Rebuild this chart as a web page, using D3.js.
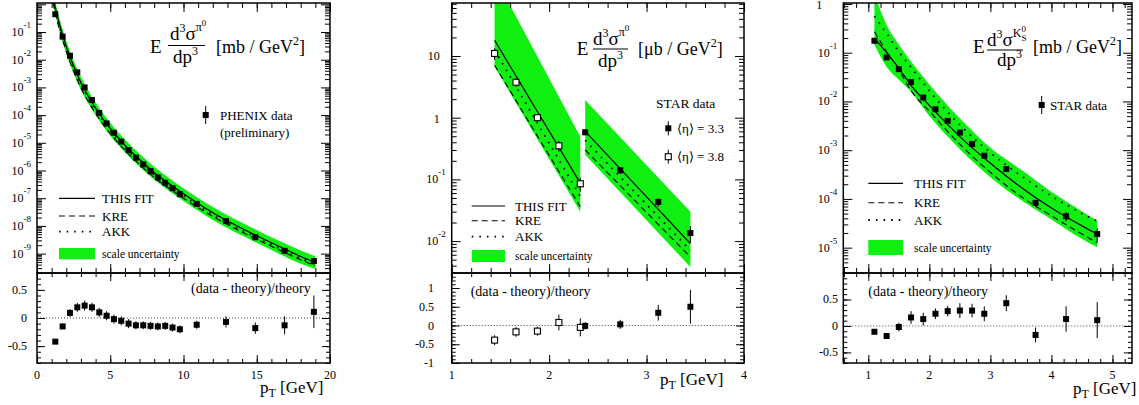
<!DOCTYPE html>
<html>
<head>
<meta charset="utf-8">
<script src="https://cdn.jsdelivr.net/npm/d3@7"></script>
<style>
body { margin: 0; background: #fff; }
text { font-family: "Liberation Serif", "Times New Roman", serif; fill: #000; }
</style>
</head>
<body>
<script>
// ---- left: PHENIX pi0 ----
const phxPt = [1.25,1.75,2.25,2.75,3.25,3.75,4.25,4.75,5.25,5.75,6.25,6.75,7.25,7.75,8.25,8.75,9.25,9.75,10.9,12.9,14.9,16.9,18.9];
const phxVal = [0.44,0.068,0.0139,3.5e-3,1.0e-3,3.5e-4,1.2e-4,5.0e-5,2.3e-5,1.1e-5,5.5e-6,2.9e-6,1.66e-6,9.5e-7,5.6e-7,3.6e-7,2.3e-7,1.4e-7,6.2e-8,1.5e-8,3.9e-9,1.26e-9,5.4e-10];
const phxRatio = [-0.42,-0.15,0.09,0.19,0.22,0.19,0.10,0.04,-0.02,-0.05,-0.10,-0.13,-0.13,-0.14,-0.15,-0.14,-0.17,-0.20,-0.12,-0.07,-0.18,-0.13,0.11];
const phxRatioErr = [0.02,0.05,0.07,0.08,0.09,0.08,0.08,0.08,0.08,0.08,0.08,0.07,0.07,0.07,0.07,0.07,0.07,0.07,0.07,0.10,0.10,0.16,0.29];
const phxThPt = [1.1,1.25,1.5,2,2.5,3,3.5,4,5,6,7,8,9,10,12,14,16,18,19];
const phxFit = [1.78,0.76,0.224,0.030,5.9e-3,1.48e-3,4.8e-4,1.78e-4,3.3e-5,8.3e-6,2.5e-6,8.5e-7,3.4e-7,1.45e-7,3.0e-8,8.1e-9,2.45e-9,7.9e-10,4.7e-10];
const phxKRE = [1.15,0.49,0.145,0.0195,3.8e-3,9.6e-4,3.1e-4,1.15e-4,2.15e-5,5.4e-6,1.65e-6,5.6e-7,2.3e-7,1.0e-7,2.2e-8,6.0e-9,1.85e-9,6.0e-10,3.6e-10];
const phxAKK = [1.5,0.64,0.19,0.0255,5.0e-3,1.26e-3,4.1e-4,1.5e-4,2.8e-5,7.0e-6,2.1e-6,7.2e-7,2.9e-7,1.23e-7,2.55e-8,6.9e-9,2.1e-9,6.8e-10,4.0e-10];
const phxHi = [2.9,1.22,0.36,0.048,9.4e-3,2.4e-3,7.7e-4,2.85e-4,5.3e-5,1.33e-5,4.0e-6,1.36e-6,5.4e-7,2.3e-7,4.8e-8,1.3e-8,3.9e-9,1.3e-9,8.0e-10];
const phxLo = [0.98,0.42,0.123,0.0165,3.2e-3,8.1e-4,2.6e-4,9.8e-5,1.8e-5,4.6e-6,1.38e-6,4.7e-7,1.87e-7,8.0e-8,1.65e-8,4.5e-9,1.35e-9,4.3e-10,2.8e-10];

// ---- middle: STAR pi0, two rapidities ----
const s38Pt = [1.44,1.66,1.88,2.10,2.32];
const s38Val = [11,3.75,1.0,0.35,0.085];
const s38Ratio = [-0.39,-0.17,-0.15,0.08,-0.05];
const s38RatioErr = [0.13,0.13,0.12,0.21,0.24];
const s33Pt = [2.37,2.73,3.12,3.45];
const s33Val = [0.58,0.14,0.043,0.0135];
const s33Ratio = [-0.01,0.03,0.34,0.50];
const s33RatioErr = [0.10,0.12,0.21,0.45];
const th38Pt = [1.44,2.32], th38Fit = [18,0.087], th38KRE = [7.1,0.036], th38AKK = [12.5,0.053], th38Hi = [195,0.49], th38Lo = [6.7,0.030];
const th33Pt = [2.37,3.45], th33Fit = [0.60,0.0091], th33KRE = [0.30,0.0055], th33AKK = [0.43,0.0071], th33Hi = [1.94,0.030], th33Lo = [0.25,0.0038];

// ---- right: STAR K0s ----
const kPt = [1.10,1.30,1.50,1.70,1.90,2.10,2.30,2.50,2.70,2.90,3.26,3.74,4.24,4.75];
const kVal = [0.176,0.080,0.046,0.025,0.012,6.9e-3,4.0e-3,2.3e-3,1.34e-3,7.7e-4,4.1e-4,8.3e-5,4.4e-5,1.9e-5];
const kRatio = [-0.11,-0.19,-0.02,0.16,0.13,0.23,0.28,0.29,0.29,0.23,0.43,-0.17,0.13,0.11];
const kRatioErr = [0.03,0.03,0.08,0.12,0.12,0.10,0.10,0.14,0.13,0.14,0.15,0.14,0.24,0.34];
const kThPt = [1.1,1.3,1.5,1.7,2.0,2.5,3.0,3.5,4.0,4.5,4.75];
const kFit = [0.20,0.10,0.048,0.0214,8.3e-3,1.9e-3,5.4e-4,1.74e-4,6.5e-5,2.8e-5,1.9e-5];
const kKRE = [0.27,0.105,0.045,0.0166,6.3e-3,1.32e-3,3.5e-4,1.12e-4,4.5e-5,1.9e-5,1.26e-5];
const kAKK = [0.56,0.25,0.105,0.050,0.0166,3.3e-3,8.9e-4,3.0e-4,1.15e-4,5.0e-5,3.5e-5];
const kHi = [1.6,0.37,0.148,0.066,0.0224,4.5e-3,1.12e-3,4.0e-4,1.41e-4,5.6e-5,3.6e-5];
const kLo = [0.145,0.051,0.028,0.0158,5.0e-3,1.05e-3,2.8e-4,9.5e-5,3.8e-5,1.51e-5,1.02e-5];

const GREEN = '#10f010';
const TOP = 3, MID = 273, BOT = 363;

const svg = d3.select('body').append('svg').attr('width', 1139).attr('height', 405);

function rich(g, x, y, parts, anchor) {
    let t = g.append('text').attr('x', x).attr('y', y).attr('text-anchor', anchor || 'start');
    parts.forEach(function(p) {
        let s = t.append('tspan').attr('font-size', p[1]).text(p[0]);
        if (p[2]) s.attr('dy', p[2]);
        if (p[3]) s.attr('dx', p[3]);
    });
    return t;
}

function tickSet(g, axisFn, scale, vals, len, tr) {
    g.append('g').attr('transform', tr)
        .call(axisFn(scale).tickValues(vals).tickSize(-len).tickFormat(''))
        .call(function(s) { s.select('.domain').remove(); s.selectAll('line').attr('stroke-width', 1); });
}

function frameTicks(g, x, y, xMaj, xMin, yMaj, yMin, majLen, minLen) {
    let [x0, x1] = x.range(), [yb, yt] = y.range();
    [[xMaj, majLen], [xMin, minLen]].forEach(function(p) {
        tickSet(g, d3.axisBottom, x, p[0], p[1], 'translate(0,' + yb + ')');
        tickSet(g, d3.axisTop, x, p[0], p[1], 'translate(0,' + yt + ')');
    });
    [[yMaj, majLen], [yMin, minLen]].forEach(function(p) {
        tickSet(g, d3.axisLeft, y, p[0], p[1], 'translate(' + x0 + ',0)');
        tickSet(g, d3.axisRight, y, p[0], p[1], 'translate(' + x1 + ',0)');
    });
    g.append('rect').attr('x', x0).attr('y', yt).attr('width', x1 - x0).attr('height', yb - yt)
        .attr('fill', 'none').attr('stroke', '#000').attr('stroke-width', 1.5);
}

function linSteps(lo, hi, step) {
    let out = [];
    for (let i = Math.ceil(lo / step - 1e-6); i * step <= hi + 1e-6; i++) out.push(+(i * step).toFixed(6));
    return out;
}

function logSteps(lo, hi) {
    let maj = [], min = [];
    for (let e = Math.floor(Math.log10(lo)); e <= Math.ceil(Math.log10(hi)); e++) {
        for (let m = 1; m < 10; m++) {
            let v = m * Math.pow(10, e);
            if (v < lo || v > hi) continue;
            (m == 1 ? maj : min).push(v);
        }
    }
    return {maj: maj, min: min};
}

let clipN = 0;

function panel(cfg) {
    let g = svg.append('g');
    let x = d3.scaleLinear().domain(cfg.xDom).range([cfg.x0, cfg.x1]);
    let yU = d3.scaleLog().domain(cfg.yDom).range([MID, TOP]);
    let yL = d3.scaleLinear().domain(cfg.rDom).range([BOT, MID]);

    let id = 'clip' + (clipN++);
    g.append('clipPath').attr('id', id).append('rect')
        .attr('x', cfg.x0).attr('y', TOP).attr('width', cfg.x1 - cfg.x0).attr('height', MID - TOP);
    let plot = g.append('g').attr('clip-path', 'url(#' + id + ')');

    // scale uncertainty bands first, then curves
    cfg.theory.forEach(function(th) {
        let idx = d3.range(th.pt.length);
        plot.append('path')
            .attr('d', d3.area().x(i => x(th.pt[i])).y0(i => yU(th.lo[i])).y1(i => yU(th.hi[i])).curve(d3.curveMonotoneX)(idx))
            .attr('fill', GREEN);
    });
    cfg.theory.forEach(function(th) {
        let idx = d3.range(th.pt.length);
        [[th.fit, null, 1.2], [th.kre, '6,4', 1.1], [th.akk, '1.6,6', 1.8]].forEach(function(c) {
            plot.append('path')
                .attr('d', d3.line().x(i => x(th.pt[i])).y(i => yU(c[0][i])).curve(d3.curveMonotoneX)(idx))
                .attr('fill', 'none').attr('stroke', '#000').attr('stroke-width', c[2])
                .attr('stroke-dasharray', c[1]);
        });
    });

    // data points, upper and ratio
    let rat = g.append('g');
    rat.append('line').attr('x1', cfg.x0).attr('x2', cfg.x1).attr('y1', yL(0)).attr('y2', yL(0))
        .attr('stroke', '#444').attr('stroke-width', 1).attr('stroke-dasharray', '1,2');
    cfg.data.forEach(function(d) {
        d.pt.forEach(function(p, i) {
            let e = d.err[i] * d.val[i] / (1 + d.ratio[i]);
            plot.append('line').attr('x1', x(p)).attr('x2', x(p))
                .attr('y1', yU(Math.max(d.val[i] - e, d.val[i] * 0.05))).attr('y2', yU(d.val[i] + e))
                .attr('stroke', '#000').attr('stroke-width', 1);
            rat.append('line').attr('x1', x(p)).attr('x2', x(p))
                .attr('y1', yL(d.ratio[i] - d.err[i])).attr('y2', yL(d.ratio[i] + d.err[i]))
                .attr('stroke', '#000').attr('stroke-width', 1);
            [[plot, yU(d.val[i])], [rat, yL(d.ratio[i])]].forEach(function(q) {
                if (d.open) {
                    q[0].append('rect').attr('x', x(p) - 3).attr('y', q[1] - 3).attr('width', 6).attr('height', 6)
                        .attr('fill', '#fff').attr('stroke', '#000').attr('stroke-width', 1.1);
                } else {
                    q[0].append('rect').attr('x', x(p) - 3).attr('y', q[1] - 3).attr('width', 6).attr('height', 6)
                        .attr('fill', '#000');
                }
            });
        });
    });

    // frames and ticks
    let lt = logSteps(cfg.yDom[0], cfg.yDom[1]);
    frameTicks(g, x, yU, cfg.xMaj, linSteps(cfg.xDom[0], cfg.xDom[1], cfg.xMinStep), lt.maj, lt.min, 9, 5);
    frameTicks(g, x, yL, cfg.xMaj, linSteps(cfg.xDom[0], cfg.xDom[1], cfg.xMinStep), cfg.rMaj, linSteps(cfg.rDom[0], cfg.rDom[1], cfg.rMinStep), 8, 4);

    // tick labels
    lt.maj.forEach(function(v) {
        let e = Math.round(Math.log10(v));
        if (e == 0) {
            if (!cfg.skipOne) rich(g, cfg.x0 - cfg.plainOff, yU(v) + 5, [['1', 12]], 'end');
        }
        else if (e == 1) rich(g, cfg.x0 - cfg.plainOff, yU(v) + 4, [['10', 12]], 'end');
        else rich(g, cfg.x0 - 6, yU(v) + 4, [['10', 12], [String(e), 9, -8]], 'end');
    });
    cfg.rMaj.forEach(function(v) {
        rich(g, cfg.rLabX, yL(v) + 4, [[String(v), 12]], 'end');
    });
    cfg.xMaj.forEach(function(v) {
        rich(g, x(v), 379, [[String(v), 12]], 'middle');
    });
    rich(g, cfg.ptX, cfg.ptY, [['p', 17], ['T', 12, 4], [' [GeV]', 17, -4]]);
    rich(g, cfg.ratX, cfg.ratY, [['(data - theory)/theory', 14]]);

    // legend for curves
    let L = cfg.leg;
    [[L.y[0], null, 1.2], [L.y[1], '6,4', 1.1], [L.y[2], '1.6,6', 1.8]].forEach(function(c) {
        g.append('line').attr('x1', L.x0).attr('x2', L.x1).attr('y1', c[0]).attr('y2', c[0])
            .attr('stroke', '#000').attr('stroke-width', c[2]).attr('stroke-dasharray', c[1]);
    });
    rich(g, L.tx, L.y[0] + 4.5, [['THIS FIT', 13]]);
    rich(g, L.tx, L.y[1] + 4.5, [['KRE', 13]]);
    rich(g, L.tx, L.y[2] + 4.5, [['AKK', 13]]);
    g.append('rect').attr('x', L.x0).attr('y', L.y[3]).attr('width', L.x1 - L.x0).attr('height', L.h).attr('fill', GREEN);
    rich(g, L.tx, L.y[3] + L.h / 2 + 4, [['scale uncertainty', 11.5]]);
    return g;
}

function marker(g, cx, cy, open, half) {
    g.append('line').attr('x1', cx).attr('x2', cx).attr('y1', cy - half).attr('y2', cy + half)
        .attr('stroke', '#000').attr('stroke-width', 1);
    g.append('rect').attr('x', cx - 3).attr('y', cy - 3).attr('width', 6).attr('height', 6)
        .attr('fill', open ? '#fff' : '#000').attr('stroke', open ? '#000' : 'none').attr('stroke-width', 1.1);
}

function fraction(g, ex, ey, nx, ny, num, barX0, barX1, barY, dx, dy, ux, uy, unit) {
    rich(g, ex, ey, [['E', 19]]);
    rich(g, nx, ny, num);
    g.append('line').attr('x1', barX0).attr('x2', barX1).attr('y1', barY).attr('y2', barY)
        .attr('stroke', '#000').attr('stroke-width', 1);
    rich(g, dx, dy, [['dp', 19], ['3', 12, -8]]);
    rich(g, ux, uy, [[unit, 18], ['2', 12, -8], [']', 18, 8]]);
}

// ---------- left panel ----------
let gL = panel({
    x0: 37, x1: 330, xDom: [0, 20], xMaj: [0, 5, 10, 15, 20], xMinStep: 1,
    yDom: [Math.pow(10, -9.70), Math.pow(10, 0.047)],
    rDom: [-0.8, 0.8], rMaj: [-0.5, 0, 0.5], rMinStep: 0.1, rLabX: 27, plainOff: 12, skipOne: true,
    theory: [{pt: phxThPt, fit: phxFit, kre: phxKRE, akk: phxAKK, hi: phxHi, lo: phxLo}],
    data: [{pt: phxPt, val: phxVal, ratio: phxRatio, err: phxRatioErr, open: false}],
    ptX: 260, ptY: 393, ratX: 191, ratY: 293,
    leg: {x0: 59, x1: 95, tx: 102, y: [198.3, 216, 231.7, 248], h: 11.3}
});
fraction(gL, 150, 53, 170, 40, [['d', 19], ['3', 12, -8], ['σ', 19, 8], ['π', 12, -9], ['0', 9, -5]],
    168, 205, 45.5, 173, 63, 216, 53, '[mb / GeV');
marker(gL, 205.7, 115, false, 9);
rich(gL, 220, 120, [['PHENIX data', 13]]);
rich(gL, 220, 137, [['(preliminary)', 13]]);

// ---------- middle panel ----------
let gM = panel({
    x0: 451.7, x1: 744, xDom: [1, 4], xMaj: [1, 2, 3, 4], xMinStep: 0.2,
    yDom: [Math.pow(10, -2.517), Math.pow(10, 1.859)],
    rDom: [-1, 1.4], rMaj: [-1, -0.5, 0, 0.5, 1], rMinStep: 0.1, rLabX: 434, plainOff: 12,
    theory: [
        {pt: th38Pt, fit: th38Fit, kre: th38KRE, akk: th38AKK, hi: th38Hi, lo: th38Lo},
        {pt: th33Pt, fit: th33Fit, kre: th33KRE, akk: th33AKK, hi: th33Hi, lo: th33Lo}
    ],
    data: [
        {pt: s38Pt, val: s38Val, ratio: s38Ratio, err: s38RatioErr, open: true},
        {pt: s33Pt, val: s33Val, ratio: s33Ratio, err: s33RatioErr, open: false}
    ],
    ptX: 660, ptY: 385, ratX: 470.7, ratY: 295.7,
    leg: {x0: 471.7, x1: 505, tx: 515, y: [206, 220.7, 236.7, 250], h: 12}
});
fraction(gM, 576.7, 55, 593, 45, [['d', 19], ['3', 12, -8], ['σ', 19, 8], ['π', 12, -9], ['0', 9, -5]],
    593, 628, 49, 598, 67, 638, 55, '[μb / GeV');
rich(gM, 656, 108, [['STAR data', 13.5]]);
marker(gM, 668.3, 128.3, false, 7);
rich(gM, 677, 132.5, [['\u27E8η\u27E9 = 3.3', 13]]);
marker(gM, 668.3, 156.7, true, 7);
rich(gM, 677, 161, [['\u27E8η\u27E9 = 3.8', 13]]);

// ---------- right panel ----------
let gR = panel({
    x0: 843.3, x1: 1132, xDom: [0.59, 5.32], xMaj: [1, 2, 3, 4, 5], xMinStep: 0.2,
    yDom: [Math.pow(10, -5.52), Math.pow(10, 0.02)],
    rDom: [-0.7, 1.0], rMaj: [-0.5, 0, 0.5], rMinStep: 0.1, rLabX: 838, plainOff: 21,
    theory: [{pt: kThPt, fit: kFit, kre: kKRE, akk: kAKK, hi: kHi, lo: kLo}],
    data: [{pt: kPt, val: kVal, ratio: kRatio, err: kRatioErr, open: false}],
    ptX: 1073, ptY: 394, ratX: 868.3, ratY: 295.7,
    leg: {x0: 868.3, x1: 903, tx: 914, y: [183.3, 202.7, 220, 240], h: 15}
});
fraction(gR, 973, 53, 987, 46,
    [['d', 19], ['3', 12, -8], ['σ', 19, 8], ['K', 12, -9], ['0', 9, -5], ['S', 9, 9, -4.5]],
    987, 1023, 50, 997, 66, 1033, 53, '[mb / GeV');
marker(gR, 1041.7, 105, false, 9);
rich(gR, 1050, 109.5, [['STAR data', 13]]);
</script>
</body>
</html>
